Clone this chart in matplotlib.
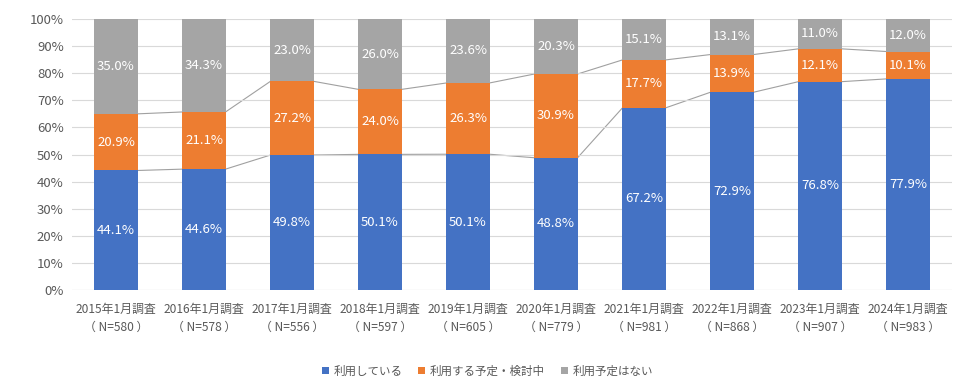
import numpy as np
import matplotlib.pyplot as plt

plt.rcParams['font.family'] = ['Noto Sans CJK JP', 'DejaVu Sans']

years = ['2015年1月調査', '2016年1月調査', '2017年1月調査', '2018年1月調査', '2019年1月調査',
         '2020年1月調査', '2021年1月調査', '2022年1月調査', '2023年1月調査', '2024年1月調査']
n_counts = [580, 578, 556, 597, 605, 779, 981, 868, 907, 983]
series_names = ['利用している', '利用する予定・検討中', '利用予定はない']
using = [44.1, 44.6, 49.8, 50.1, 50.1, 48.8, 67.2, 72.9, 76.8, 77.9]
planned = [20.9, 21.1, 27.2, 24.0, 26.3, 30.9, 17.7, 13.9, 12.1, 10.1]
no_plan = [35.0, 34.3, 23.0, 26.0, 23.6, 20.3, 15.1, 13.1, 11.0, 12.0]
colors = ['#4472C4', '#ED7D31', '#A5A5A5']

data = np.array([using, planned, no_plan])
frac = data / data.sum(axis=0)  # 100% stacked like Excel
x = np.arange(len(years))
width = 0.49

fig = plt.figure(figsize=(9.75, 3.9), dpi=100)
ax = fig.add_axes([72 / 975, 1 - 290 / 390, 880 / 975, 271 / 390])

bottom = np.zeros(len(years))
for vals, fr, name, c in zip(data, frac, series_names, colors):
    ax.bar(x, fr, width, bottom=bottom, color=c, label=name, zorder=2)
    for xi, v, f, b in zip(x, vals, fr, bottom):
        ax.text(xi, b + f / 2, '{:.1f}%'.format(v), ha='center', va='center',
                color='white', fontsize=9.5, zorder=3)
    bottom = bottom + fr
    if name != series_names[-1]:
        # series lines between bars
        for i in range(len(x) - 1):
            ax.plot([x[i] + width / 2, x[i + 1] - width / 2], [bottom[i], bottom[i + 1]],
                    color='#A0A0A0', lw=0.8, zorder=1)

ax.set_xlim(-0.5, len(years) - 0.5)
ax.set_ylim(0, 1)
ax.set_yticks(np.arange(0, 1.01, 0.1))
ax.set_yticklabels(['{}%'.format(int(round(t * 100))) for t in np.arange(0, 1.01, 0.1)])
ax.set_xticks(x)
ax.set_xticklabels(['{}\n（ N={} ）'.format(y, n) for y, n in zip(years, n_counts)],
                   linespacing=1.55)
ax.tick_params(length=0, colors='#595959')
ax.tick_params(axis='y', labelsize=9.5, pad=6)
ax.tick_params(axis='x', labelsize=8.6, pad=9)
ax.grid(axis='y', color='#D9D9D9', lw=0.8, zorder=0)
for s in ax.spines.values():
    s.set_visible(False)
ax.axhline(0, color='#D9D9D9', lw=0.8, zorder=0)

fig.legend(loc='center', bbox_to_anchor=(0.5, 1 - 371 / 390), ncol=3, frameon=False,
           fontsize=8.3, handlelength=0.6, handleheight=0.6, handletextpad=0.4,
           columnspacing=1.4, labelcolor='#595959')

fig.savefig('out.png', dpi=100)
